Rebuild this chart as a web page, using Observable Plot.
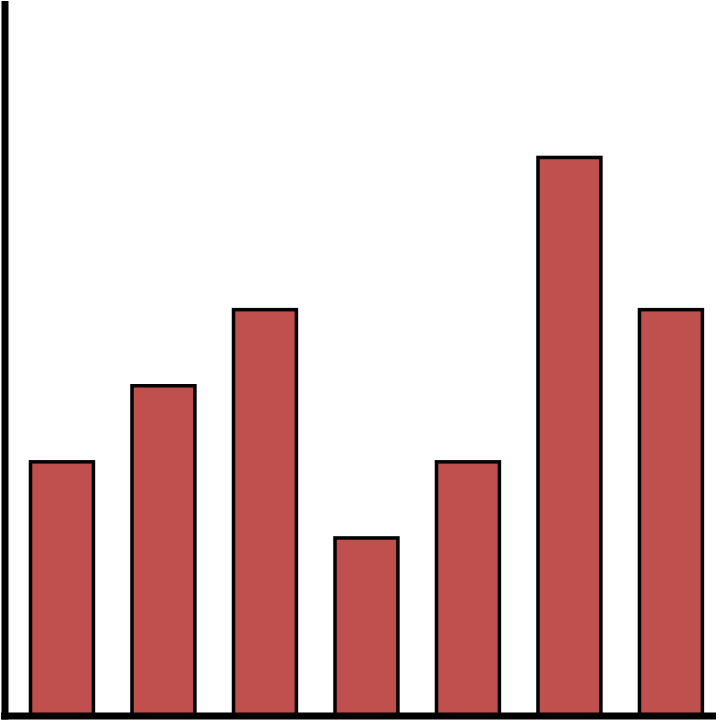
<!DOCTYPE html>
<html>
<head>
<meta charset="utf-8">
<script src="https://cdn.jsdelivr.net/npm/d3@7"></script>
<script src="https://cdn.jsdelivr.net/npm/@observablehq/plot@0.6"></script>
<style>
  html, body { margin: 0; padding: 0; background: #fff; }
  #chart svg { display: block; }
</style>
</head>
<body>
<div id="chart"></div>
<script>
const categories = ["A", "B", "C", "D", "E", "F", "G"];
const values = [10, 13, 16, 7, 10, 22, 16];

const data = categories.map((c, i) => ({category: c, value: values[i]}));

const chart = Plot.plot({
  width: 721,
  height: 721,
  marginTop: 4,
  marginBottom: 5.5,
  marginLeft: 4.5,
  marginRight: 8.5,
  style: {background: "#fff"},
  x: {domain: categories, range: [10.2, 722.7], paddingInner: 0.38, paddingOuter: 0.2, round: false, axis: null},
  y: {domain: [0, 28.05], axis: null},
  marks: [
    Plot.barY(data, {x: "category", y: "value", fill: "#c0504d", stroke: "#000", strokeWidth: 3.5}),
    Plot.frame({anchor: "left", stroke: "#000", strokeWidth: 7}),
    Plot.ruleY([0], {stroke: "#000", strokeWidth: 7, strokeLinecap: "square"})
  ]
});
document.getElementById("chart").appendChild(chart);
</script>
</body>
</html>
